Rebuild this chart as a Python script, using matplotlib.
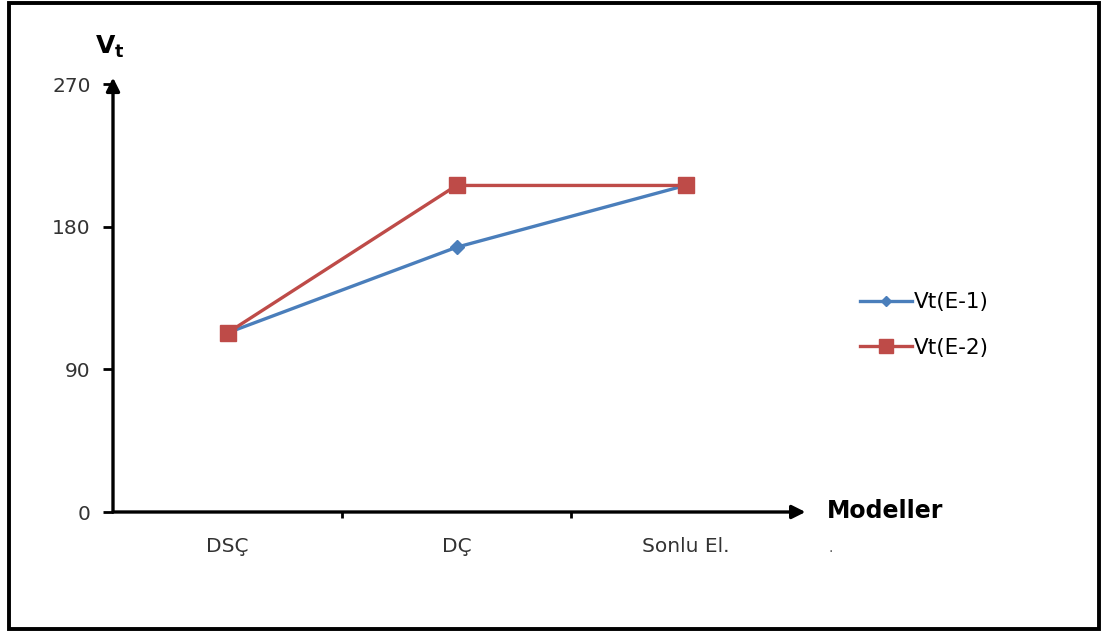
import matplotlib.pyplot as plt
from matplotlib.patches import Rectangle

models = ["DSÇ", "DÇ", "Sonlu El."]
vt_e1 = [113, 167, 206]
vt_e2 = [113, 206, 206]
y_ticks = [0, 90, 180, 270]

blue = "#4A7EBB"
red = "#BE4B48"

fig = plt.figure(figsize=(11.03, 6.32), dpi=100)
ax = fig.add_axes([113 / 1103, 120 / 632, 687 / 1103, 428 / 632])

x = list(range(len(models)))
ax.plot(x, vt_e1, color=blue, linewidth=2.4, marker="D", markersize=7,
        label="Vt(E-1)", zorder=3)
ax.plot(x, vt_e2, color=red, linewidth=2.4, marker="s", markersize=12,
        label="Vt(E-2)", zorder=4)

ax.set_xlim(-0.5, 2.5)
ax.set_ylim(0, 270)
ax.set_yticks(y_ticks)
ax.set_xticks(x)
ax.set_xticklabels(models)
ax.set_xticks([0.5, 1.5], minor=True)

for s in ax.spines.values():
    s.set_visible(False)

# axis arrows
arrow = dict(arrowstyle="-|>", lw=2.4, color="black", mutation_scale=20,
             shrinkA=0, shrinkB=0)
ax.annotate("", xy=(0, 1.015), xytext=(0, 0), xycoords="axes fraction",
            arrowprops=arrow)
ax.annotate("", xy=(1.008, 0), xytext=(0, 0), xycoords="axes fraction",
            arrowprops=arrow)

ax.tick_params(axis="y", direction="out", length=7, width=2, pad=9,
               labelsize=14.5, labelcolor="#333333")
ax.tick_params(axis="x", which="major", length=0, pad=18, labelsize=14.5,
               labelcolor="#333333")
ax.tick_params(axis="x", which="minor", direction="out", length=4, width=2)

fig.text(110 / 1103, 1 - 47 / 632, r"$\mathbf{V_t}$", fontsize=18,
         ha="center", va="center")
fig.text(827 / 1103, 1 - 511 / 632, "Modeller", fontsize=17,
         fontweight="bold", ha="left", va="center")
fig.text(828 / 1103, 1 - 548 / 632, ".", fontsize=10, color="#555555",
         ha="left", va="center")

fig.legend(loc="center left", bbox_to_anchor=(860 / 1103, 1 - 325 / 632),
           frameon=False, fontsize=15.5, borderpad=0, borderaxespad=0,
           handlelength=2.4, handletextpad=0.1, labelspacing=1.2,
           markerscale=0.8)

fig.patches.append(Rectangle((9 / 1103, 3 / 632), 1090 / 1103, 626 / 632,
                             transform=fig.transFigure, fill=False,
                             edgecolor="black", linewidth=2.8))

plt.savefig("out.png", dpi=100)
